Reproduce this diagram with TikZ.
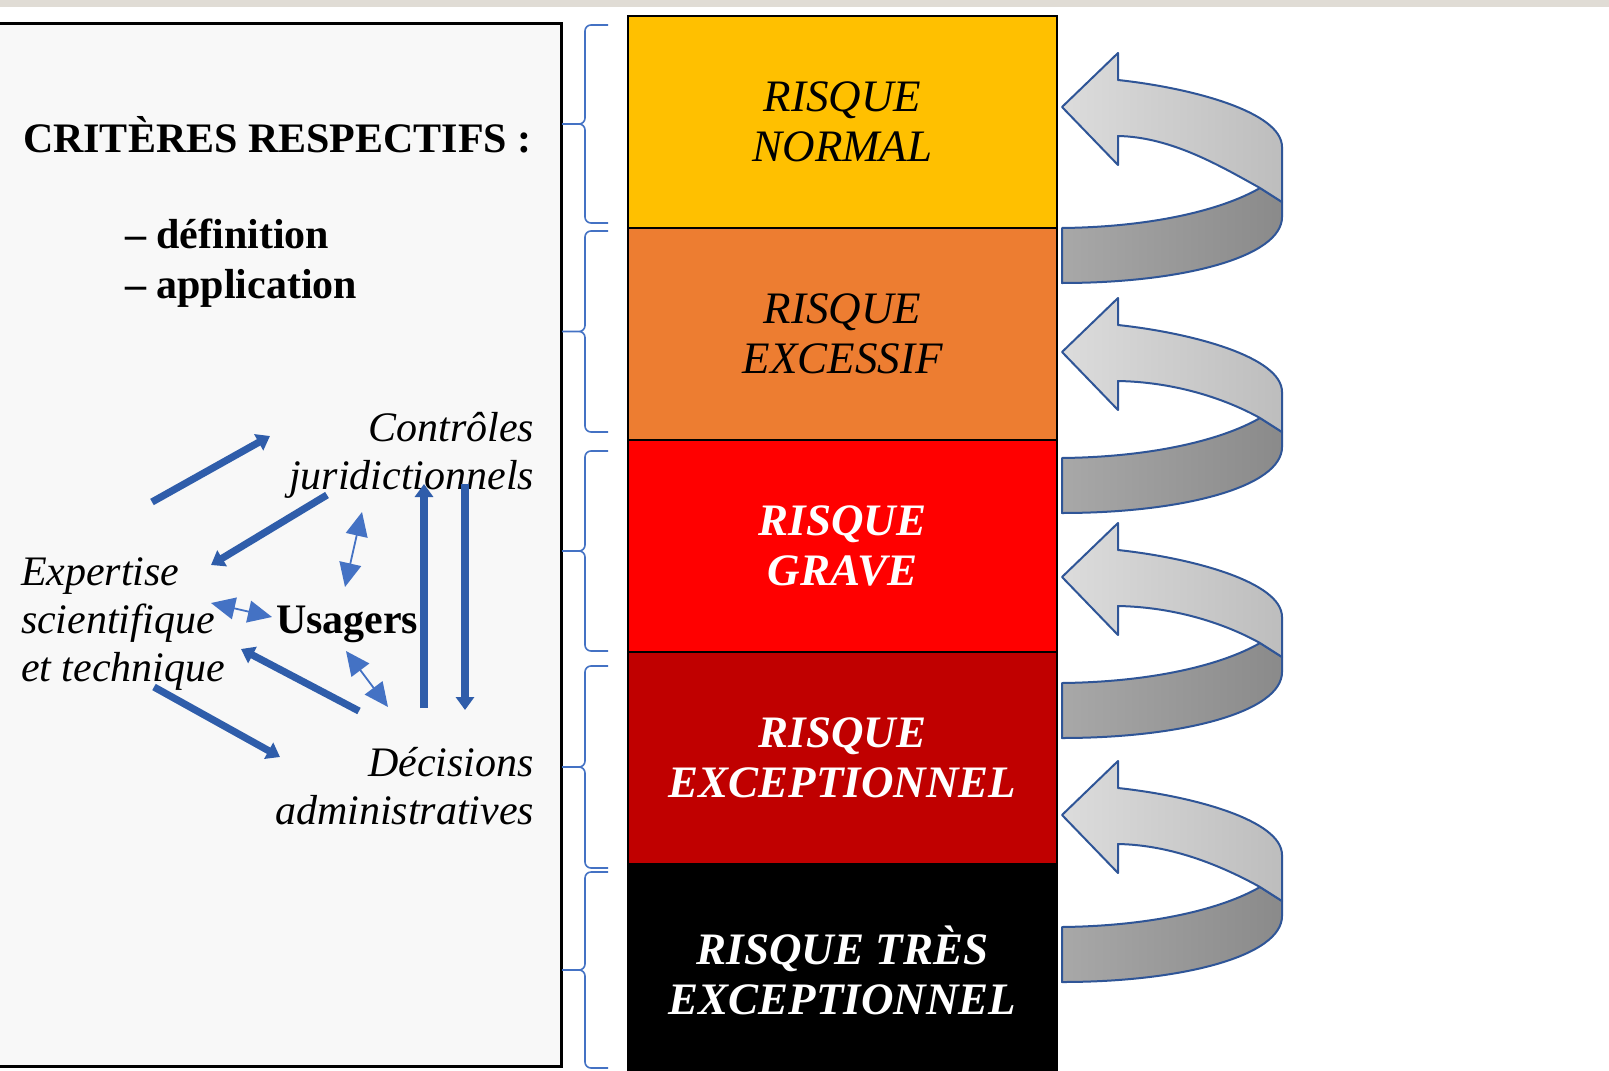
\documentclass[tikz,border=0pt]{standalone}
\usepackage{fontspec}
\setmainfont{Liberation Serif}
\usetikzlibrary{positioning, arrows.meta}

\definecolor{bandeau}{HTML}{E0DCD5}
\definecolor{cadre}{HTML}{F8F8F8}
\definecolor{rnormal}{HTML}{FFC000}
\definecolor{rexcessif}{HTML}{ED7D31}
\definecolor{rgrave}{HTML}{FF0000}
\definecolor{rexcept}{HTML}{C00000}
\definecolor{flecheblue}{HTML}{2F5DAA}
\definecolor{lienblue}{HTML}{4472C4}
\definecolor{contour}{HTML}{2F5597}
\definecolor{rubanA}{HTML}{DCDCDC}
\definecolor{rubanB}{HTML}{BDBDBD}
\definecolor{rubanC}{HTML}{A8A8A8}
\definecolor{rubanD}{HTML}{8A8A8A}

\newcommand\critfont{\fontsize{21}{25}\selectfont}
\newcommand\schemafont{\fontsize{21}{24}\selectfont}

\begin{document}
\begin{tikzpicture}[x=0.5pt, y=-0.5pt,
    texte/.style={inner sep=0pt, outer sep=0pt},
    band/.style={draw=black, line width=0.8pt, minimum width=214.5pt,
      minimum height=106pt, inner sep=0pt, outer sep=0pt, align=center,
      font=\fontsize{22.5}{25}\selectfont\itshape},
    band dark/.style={band, text=white,
      font=\fontsize{22.5}{25}\selectfont\bfseries\itshape},
    fleche/.style={draw=flecheblue, line width=3.6pt,
      -{Triangle[length=6.5pt, width=9pt]}},
    lien/.style={draw=lienblue, line width=0.9pt,
      {Triangle[length=12pt, width=11pt]}-{Triangle[length=12pt, width=11pt]}},
    accolade/.style={draw=lienblue, line width=0.8pt, rounded corners=3pt},
    ruban/.style={draw=contour, line width=1pt, line join=round}]
  \useasboundingbox (0,0) rectangle (1609,1070);
  \fill[white] (0,0) rectangle (1609,1070);
  \fill[bandeau] (0,0) rectangle (1609,7);

  % cadre des criteres
  \draw[line width=1.5pt, fill=cadre] (-5,24) rectangle (561,1066);
  \node[texte, anchor=base west, font=\bfseries\critfont] (titre) at (23,152) {CRITÈRES RESPECTIFS :};
  \node[texte, anchor=base west, align=left, font=\bfseries\critfont] (crit) at (125,298) {– définition\\– application};

  \node[texte, anchor=base east, align=right, font=\itshape\schemafont] (ctrl) at (534,489) {Contrôles\\juridictionnels};
  \node[texte, anchor=base west, align=left, font=\itshape\schemafont] (expert) at (21,681) {Expertise\\scientifique\\et technique};
  \node[texte, anchor=base west, font=\bfseries\schemafont] (usagers) at (276,633) {Usagers};
  \node[texte, anchor=base east, align=right, font=\itshape\schemafont] (decis) at (534,824) {Décisions\\administratives};

  \coordinate (ec1) at (152,502);  \coordinate (ec2) at (270,436);
  \coordinate (ce1) at (327,495);  \coordinate (ce2) at (211,565);
  \coordinate (de1) at (359,711);  \coordinate (de2) at (241,649);
  \coordinate (ed1) at (154,687);  \coordinate (ed2) at (280,757);
  \coordinate (dc1) at (424,708);  \coordinate (dc2) at (424,484);
  \coordinate (cd1) at (465,484);  \coordinate (cd2) at (465,710);
  \coordinate (uc1) at (345,587);  \coordinate (uc2) at (362,512);
  \coordinate (ue1) at (272,617);  \coordinate (ue2) at (211,603);
  \coordinate (ud1) at (346,651);  \coordinate (ud2) at (388,707);

  \draw[fleche] (ec1) -- (ec2);
  \draw[fleche] (ce1) -- (ce2);
  \draw[fleche] (de1) -- (de2);
  \draw[fleche] (ed1) -- (ed2);
  \draw[fleche] (dc1) -- (dc2);
  \draw[fleche] (cd1) -- (cd2);
  \draw[lien] (uc1) -- (uc2);
  \draw[lien] (ue1) -- (ue2);
  \draw[lien] (ud1) -- (ud2);

  % accolades
  \foreach \t/\b in {25/223, 231/432, 451/651, 666/868, 872/1068}
    \draw[accolade] (608,\t) -- (585,\t) -- (585,{(\t+\b)/2}) -- (562,{(\t+\b)/2})
                    (608,\b) -- (585,\b) -- (585,{(\t+\b)/2}) -- (562,{(\t+\b)/2});

  % echelle des risques
  \node[band, fill=rnormal] (r1) at (842.5,122) {RISQUE\\NORMAL};
  \node[band, fill=rexcessif, below=0pt of r1] (r2) {RISQUE\\EXCESSIF};
  \node[band dark, fill=rgrave, below=0pt of r2] (r3) {RISQUE\\GRAVE};
  \node[band dark, fill=rexcept, below=0pt of r3] (r4) {RISQUE\\EXCEPTIONNEL};
  \node[band dark, fill=black, below=0pt of r4] (r5) {RISQUE TRÈS\\EXCEPTIONNEL};

  % fleches de retour
  \foreach \ty/\dr in {107/15, 352/0, 577/0, 815/6} {
    \begin{scope}[shift={(1062,\ty)}]
      \filldraw[ruban, left color=rubanC, right color=rubanD]
        (0,{106+\dr}) .. controls (90,{105+\dr}) and (160,{88+\dr}) .. (198,{66+\dr})
        -- (220,{80+\dr}) -- (220,{95+\dr})
        .. controls (220,{135+\dr}) and (120,{161+\dr}) .. (0,{161+\dr}) -- cycle;
      \filldraw[ruban, left color=rubanA, right color=rubanB]
        (56,-27) .. controls (130,-19) and (220,5) .. (220,40) -- (220,{80+\dr})
        -- (198,{66+\dr}) .. controls (160,{45+\dr}) and (110,30) .. (56,29)
        -- (56,58) -- (0,0) -- (56,-54) -- cycle;
    \end{scope}
  }
\end{tikzpicture}
\end{document}
